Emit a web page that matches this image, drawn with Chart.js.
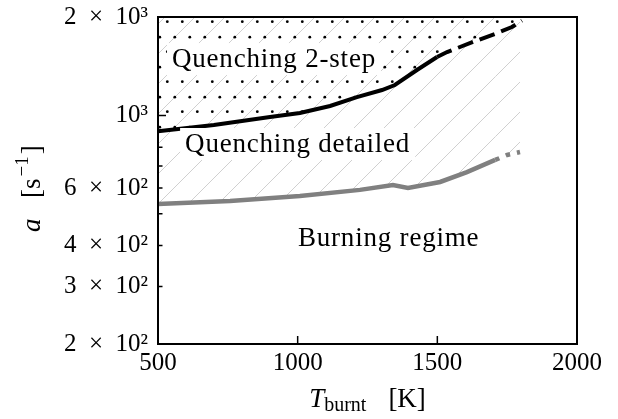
<!DOCTYPE html>
<html>
<head>
<meta charset="utf-8">
<script src="https://cdn.jsdelivr.net/npm/chart.js@4/dist/chart.umd.min.js"></script>
<style>
    html, body { margin: 0; padding: 0; background: #fff; }
    #wrap { width: 618px; height: 419px; position: relative; }
</style>
</head>
<body>
<div id="wrap"><canvas id="graficoExtincao"></canvas></div>
<script>
// Limite de extinção - mecanismo de 2 passos (linha preta)
const temp2Passos = [500, 700, 901, 1008, 1116, 1212, 1302, 1348, 1427, 1499, 1535, 1628, 1714, 1767, 1803];
const a2Passos = [895, 935, 989, 1017, 1069, 1138, 1196, 1239, 1377, 1509, 1563, 1678, 1786, 1864, 1950];
const inicioTracejado2Passos = 9;

// Limite de extinção - mecanismo detalhado (linha cinza)
const tempDetalhado = [500, 758, 1008, 1223, 1341, 1395, 1510, 1606, 1707, 1750, 1796];
const aDetalhado = [536, 547, 567, 592, 613, 600, 626, 671, 731, 757, 773];
const inicioPontilhadoDetalhado = 8;

// Eixos
const ticksX = [500, 1000, 1500, 2000];
const ticksY = [200, 300, 400, 500, 600, 700, 800, 900, 1000, 2000];
const rotulosY = ['2\u2002×\u200210²', '3\u2002×\u200210²', '4\u2002×\u200210²', '', '6\u2002×\u200210²', '', '', '', '10³', '2\u2002×\u200210³'];

const FONTE = "'Liberation Serif', 'DejaVu Serif', serif";

// Padrão de hachura diagonal
function criarHachura() {
    const c = document.createElement('canvas');
    c.width = 30; c.height = 30;
    const g = c.getContext('2d');
    g.strokeStyle = '#d0d0d0';
    g.lineWidth = 1;
    [2, 32].forEach(k => {
        g.beginPath();
        g.moveTo(-2, k + 2);
        g.lineTo(k + 2, -2);
        g.stroke();
    });
    return g.createPattern(c, 'repeat');
}

// Padrão de pontos
function criarPontos() {
    const c = document.createElement('canvas');
    c.width = 15; c.height = 30;
    const g = c.getContext('2d');
    g.fillStyle = '#000';
    [[2.3, 21.7], [9.8, 7.2]].forEach(([x, y]) => {
        g.beginPath();
        g.arc(x, y, 1.4, 0, Math.PI * 2);
        g.fill();
    });
    return g.createPattern(c, 'repeat');
}

const anotacoes = [
    { texto: 'Quenching 2-step', t: 550, a: 1406 },
    { texto: 'Quenching detailed', t: 597, a: 773 },
    { texto: 'Burning regime', t: 1001, a: 399 }
];

const pluginMoldura = {
    id: 'moldura',
    afterDatasetsDraw(chart) {
        const ctx = chart.ctx;
        const sx = chart.scales.x, sy = chart.scales.y;
        ctx.save();
        ctx.font = '27px ' + FONTE;
        ctx.letterSpacing = '0.8px';
        ctx.textBaseline = 'alphabetic';
        anotacoes.forEach(n => {
            const x = sx.getPixelForValue(n.t);
            const y = sy.getPixelForValue(n.a);
            const w = ctx.measureText(n.texto).width;
            ctx.fillStyle = '#fff';
            ctx.fillRect(x - 5, y - 24, w + 10, 32);
            ctx.fillStyle = '#000';
            ctx.fillText(n.texto, x, y);
        });
        ctx.restore();
    },
    afterDraw(chart) {
        const ctx = chart.ctx;
        const area = chart.chartArea;
        const sx = chart.scales.x, sy = chart.scales.y;
        ctx.save();
        ctx.strokeStyle = '#000';
        ctx.lineWidth = 2;
        ctx.strokeRect(area.left, area.top, area.right - area.left, area.bottom - area.top);

        // ticks para dentro
        ctx.lineWidth = 1.5;
        ctx.beginPath();
        ticksX.forEach(v => {
            const x = sx.getPixelForValue(v);
            ctx.moveTo(x, area.bottom);
            ctx.lineTo(x, area.bottom - 8);
        });
        ticksY.forEach(v => {
            const y = sy.getPixelForValue(v);
            const len = v === 1000 ? 8 : 4.5;
            ctx.moveTo(area.left, y);
            ctx.lineTo(area.left + len, y);
        });
        ctx.stroke();

        // título do eixo x
        ctx.fillStyle = '#000';
        ctx.textBaseline = 'alphabetic';
        const fT = 'italic 27px ' + FONTE, fSub = '20px ' + FONTE, fN = '27px ' + FONTE;
        ctx.font = fT; const wT = ctx.measureText('T').width;
        ctx.font = fSub; const wSub = ctx.measureText('burnt').width;
        ctx.font = fN; const wK = ctx.measureText('[K]').width;
        const espaco = 22;
        let x0 = (area.left + area.right) / 2 - (wT + wSub + espaco + wK) / 2;
        const by = 407;
        ctx.font = fT; ctx.fillText('T', x0, by);
        ctx.font = fSub; ctx.fillText('burnt', x0 + wT, by + 4);
        ctx.font = fN; ctx.fillText('[K]', x0 + wT + wSub + espaco, by);

        // título do eixo y
        ctx.translate(40, 232);
        ctx.rotate(-Math.PI / 2);
        ctx.font = 'italic 27px ' + FONTE;
        ctx.fillText('a', 0, 0);
        ctx.font = fN;
        ctx.fillText('[s', 34, 0);
        const wS = ctx.measureText('[s').width;
        ctx.font = '19px ' + FONTE;
        ctx.fillText('−1', 34 + wS + 2, -12);
        const wSup = ctx.measureText('−1').width;
        ctx.font = fN;
        ctx.fillText(']', 34 + wS + 4 + wSup, 0);
        ctx.restore();
    }
};

function criarGrafico() {
    const ctx = document.getElementById('graficoExtincao').getContext('2d');
    const hachura = criarHachura();
    const pontos = criarPontos();

    new Chart(ctx, {
        type: 'line',
        data: {
            datasets: [{
                label: '2-step',
                data: temp2Passos.map((t, i) => ({ x: t, y: a2Passos[i] })),
                borderColor: '#000',
                borderWidth: 4,
                backgroundColor: pontos,
                fill: 'end',
                pointRadius: 0,
                tension: 0,
                segment: {
                    borderDash: c => c.p0DataIndex >= inicioTracejado2Passos ? [16, 7] : undefined
                }
            }, {
                label: 'detailed',
                data: tempDetalhado.map((t, i) => ({ x: t, y: aDetalhado[i] })),
                borderColor: '#808080',
                borderWidth: 4.5,
                backgroundColor: hachura,
                fill: 'end',
                pointRadius: 0,
                tension: 0,
                segment: {
                    borderDash: c => c.p0DataIndex >= inicioPontilhadoDetalhado ? [4.5, 7] : undefined
                }
            }]
        },
        options: {
            responsive: true,
            maintainAspectRatio: false,
            animation: false,
            events: [],
            layout: { padding: { top: 17, right: 41, left: 0, bottom: 0 } },
            plugins: {
                legend: { display: false },
                tooltip: { enabled: false },
                filler: { drawTime: 'beforeDatasetsDraw' }
            },
            scales: {
                x: {
                    type: 'linear',
                    min: 500,
                    max: 2000,
                    afterBuildTicks: s => { s.ticks = ticksX.map(v => ({ value: v })); },
                    afterFit: s => {
                        s.height = 75;
                        s.paddingLeft = 0;
                        s.paddingRight = 0;
                    },
                    grid: { display: false, drawTicks: false },
                    border: { display: false },
                    ticks: {
                        color: '#000',
                        padding: 4,
                        font: { family: FONTE, size: 25 },
                        callback: v => String(v)
                    }
                },
                y: {
                    type: 'logarithmic',
                    min: 200,
                    max: 2000,
                    afterBuildTicks: s => { s.ticks = ticksY.map(v => ({ value: v })); },
                    afterFit: s => {
                        s.width = 158;
                        s.paddingTop = 0;
                        s.paddingBottom = 0;
                    },
                    grid: { display: false, drawTicks: false },
                    border: { display: false },
                    ticks: {
                        color: '#000',
                        padding: 10,
                        autoSkip: false,
                        font: { family: FONTE, size: 25 },
                        callback: v => {
                            const i = ticksY.indexOf(v);
                            return i >= 0 ? rotulosY[i] : '';
                        }
                    }
                }
            }
        },
        plugins: [pluginMoldura]
    });
}

document.addEventListener('DOMContentLoaded', () => {
    criarGrafico();
});
</script>
</body>
</html>
